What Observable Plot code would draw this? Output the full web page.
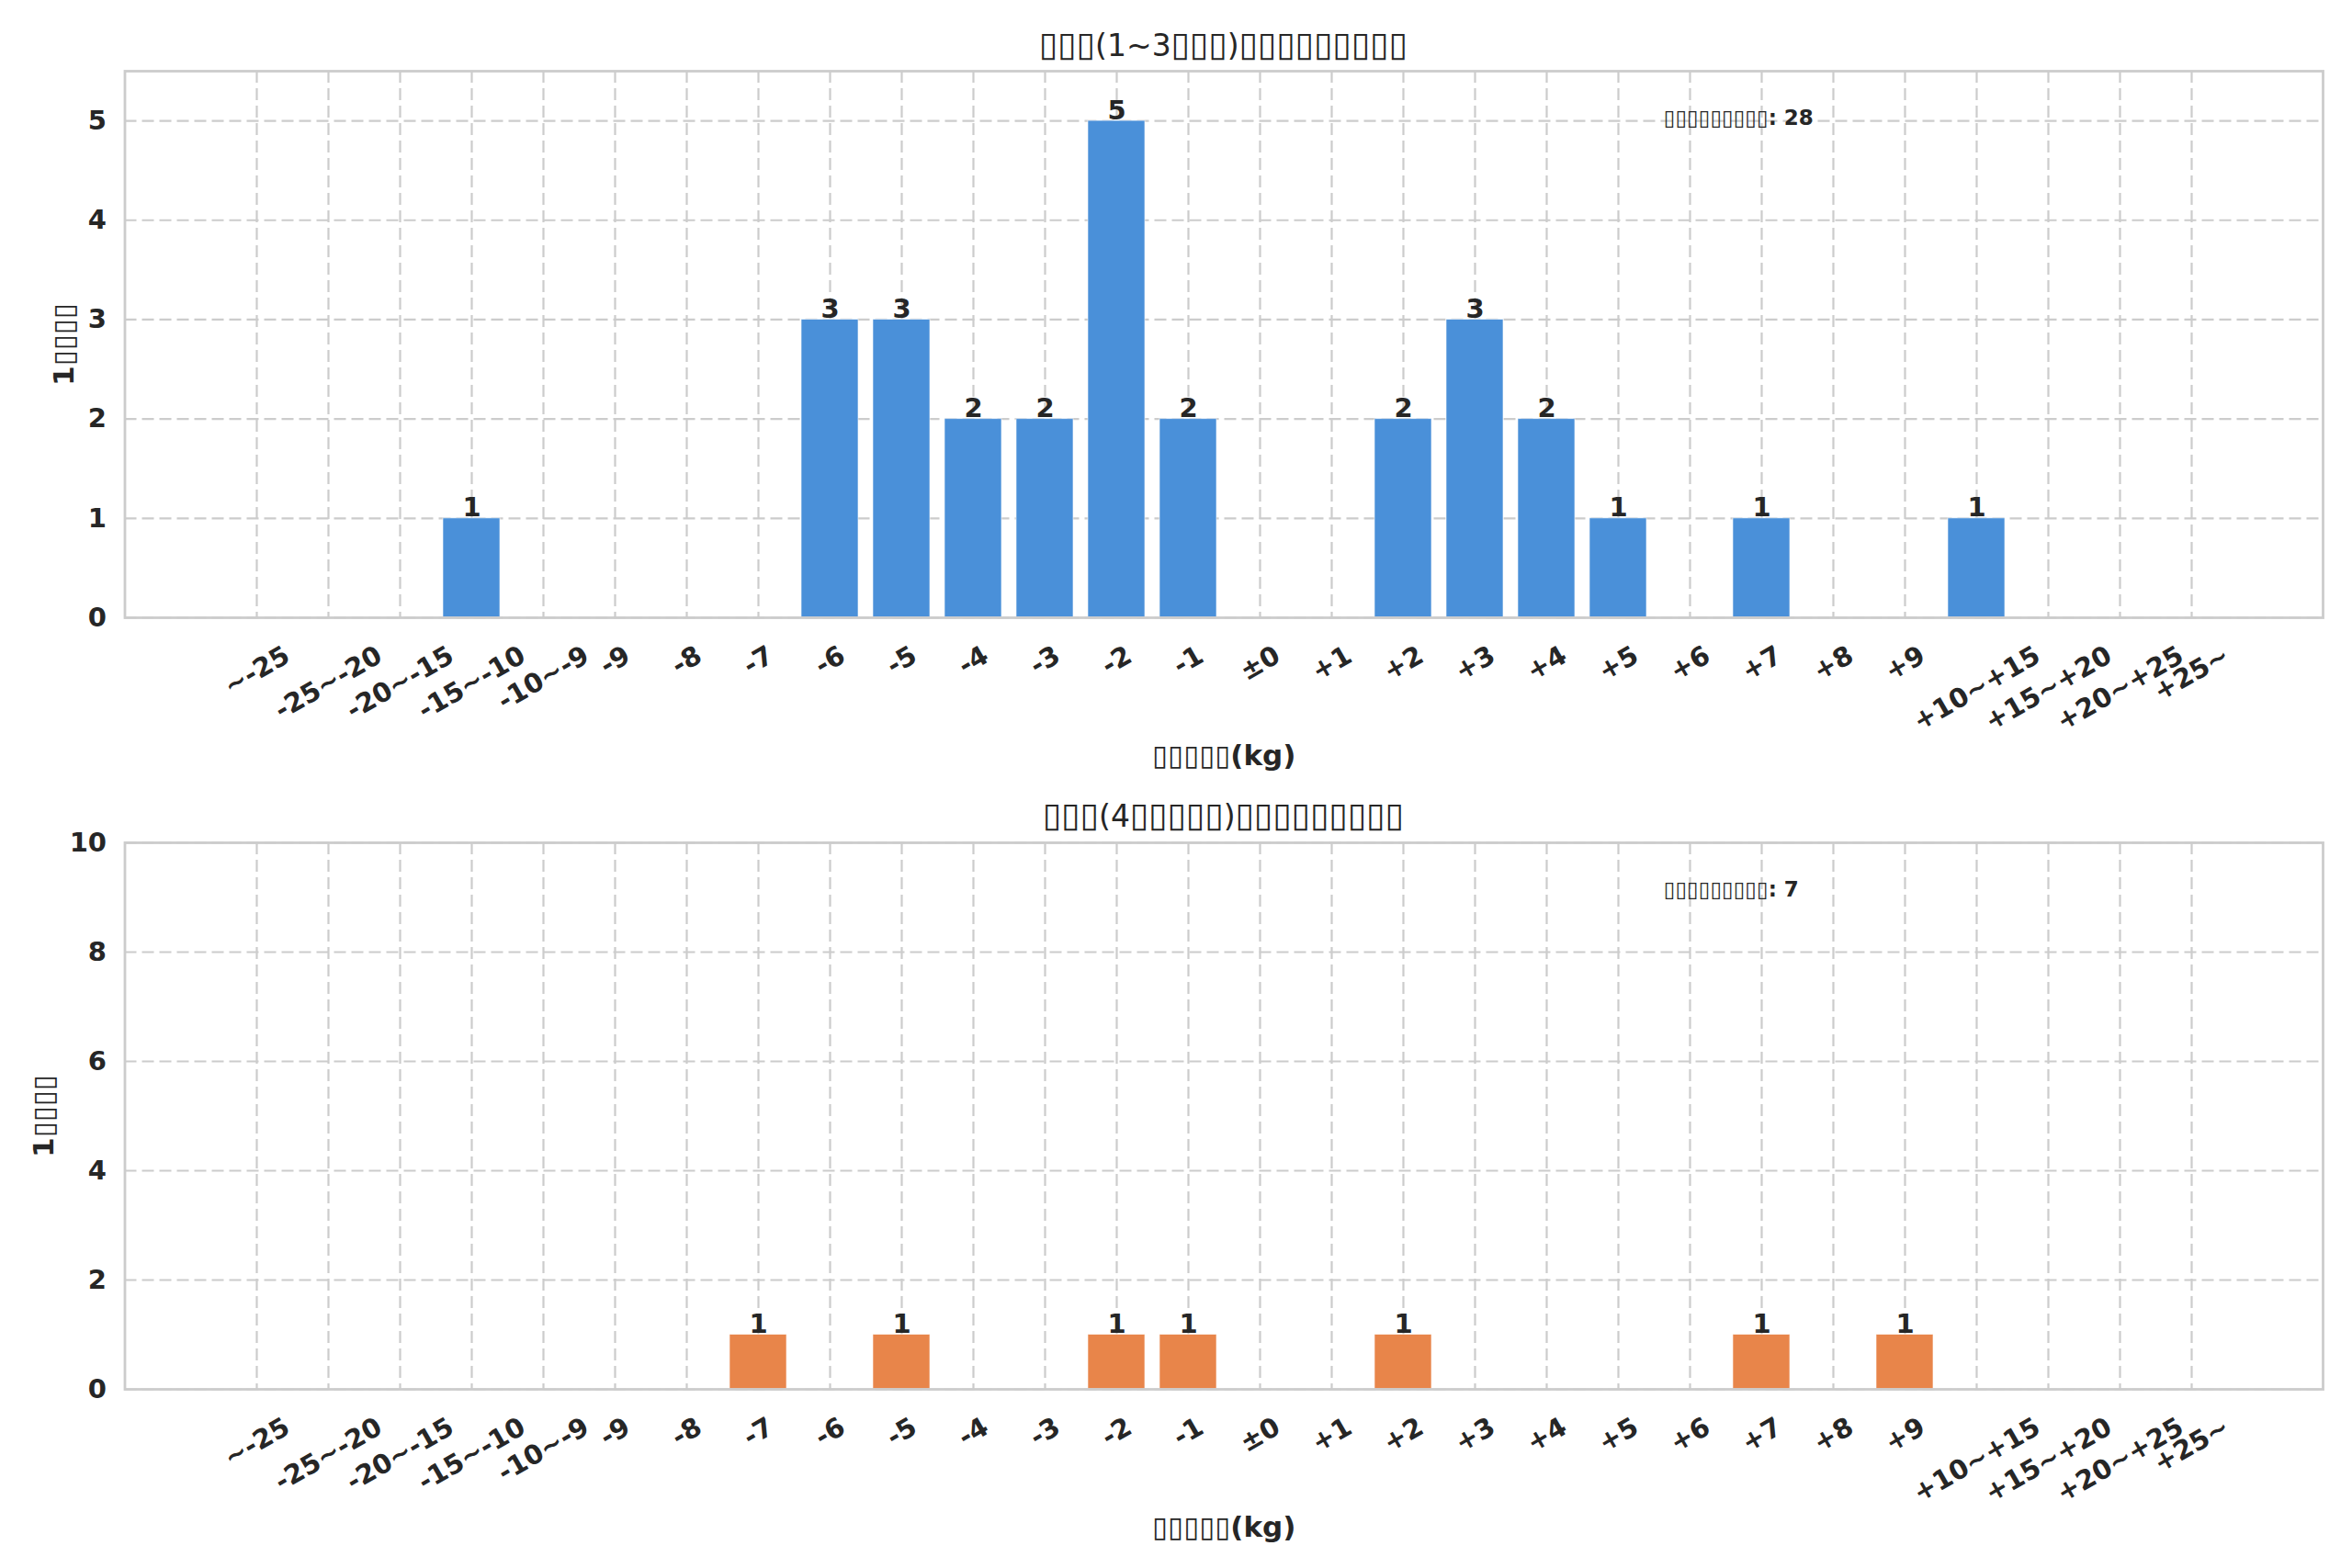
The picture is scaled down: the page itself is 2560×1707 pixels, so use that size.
<!DOCTYPE html>
<html>
<head>
<meta charset="utf-8">
<script src="https://cdn.jsdelivr.net/npm/d3@7"></script>
<script src="https://cdn.jsdelivr.net/npm/@observablehq/plot@0.6"></script>
<style>
  html, body { margin: 0; padding: 0; background: #fff; }
  body { width: 2560px; height: 1707px; position: relative; overflow: hidden; font-family: "DejaVu Sans", sans-serif; color: #262626; }
  .title { position: absolute; z-index: 2; left: 135px; width: 2393px; text-align: center; font-size: 33px; line-height: 40px; color: #262626; white-space: nowrap; }
  .title .tofu { font-size: 37px; line-height: 40px; }
  .chart { position: absolute; left: 0; z-index: 1; }
</style>
</head>
<body>
<div id="t1" class="title" style="top:29px"></div>
<div id="c1" class="chart" style="top:60px"></div>
<div id="t2" class="title" style="top:868px"></div>
<div id="c2" class="chart" style="top:900px"></div>
<script>
// ---- data ----
const categories = ["~-25","-25~-20","-20~-15","-15~-10","-10~-9","-9","-8","-7","-6","-5","-4","-3","-2","-1","±0","+1","+2","+3","+4","+5","+6","+7","+8","+9","+10~+15","+15~+20","+20~+25","+25~"];
const countsEarly = [0,0,0,1,0,0,0,0,3,3,2,2,5,2,0,0,2,3,2,1,0,1,0,0,1,0,0,0];
const countsLate  = [0,0,0,0,0,0,0,1,0,1,0,0,1,1,0,0,1,0,0,0,0,1,0,1,0,0,0,0];
const yTicksEarly = [0,1,2,3,4,5];
const yTicksLate = [0,2,4,6,8,10];
const titleEarly = "▯▯▯(1~3▯▯▯)▯▯▯▯▯▯▯▯▯";
const titleLate = "▯▯▯(4▯▯▯▯▯)▯▯▯▯▯▯▯▯▯";
const xLabel = "▯▯▯▯▯(kg)";
const yLabel = "1▯▯▯▯";
const totalLabel = "▯▯▯▯▯▯▯▯▯";
const colorEarly = "#4a90d9";
const colorLate = "#e8854a";

function setTitle(id, text) {
  const el = document.getElementById(id);
  for (const ch of text) {
    if (ch === "▯") {
      const s = document.createElement("span");
      s.className = "tofu";
      s.textContent = ch;
      el.appendChild(s);
    } else {
      el.appendChild(document.createTextNode(ch));
    }
  }
}
setTitle("t1", titleEarly);
setTitle("t2", titleLate);

const FONT = "DejaVu Sans";
const TICK_FS = 29;
const canvas = document.createElement("canvas");
const ctx = canvas.getContext("2d");
ctx.font = `bold ${TICK_FS}px "${FONT}"`;
const cos30 = Math.cos(Math.PI/6), sin30 = 0.5;
const lineH = TICK_FS * 1.17;

function chart({counts, yMax, yTicks, color, yLabelDx}) {
  const data = categories.map((c, i) => ({cat: c, n: counts[i]}));
  const total = d3.sum(counts);
  const W = 2560, H = 800, mT = 17, mB = 188, mL = 135.5, mR = 32;
  const fw = W - mL - mR, fh = H - mT - mB;
  const tickMarks = categories.map(c => {
    const w = ctx.measureText(c).width;
    const bh = sin30 * w + cos30 * lineH;
    return Plot.text([c], {
      x: d => d, frameAnchor: "bottom", rotate: -30,
      textAnchor: "middle", lineAnchor: "middle",
      dy: 24 + bh / 2, fontSize: TICK_FS, fontWeight: "bold", fill: "#262626"
    });
  });
  return Plot.plot({
    width: W, height: H,
    marginTop: mT, marginBottom: mB, marginLeft: mL, marginRight: mR,
    style: {fontFamily: FONT, color: "#262626", background: "transparent"},
    x: {type: "band", domain: categories, paddingInner: 0.2, paddingOuter: 1.39, align: 0.5, axis: null},
    y: {domain: [0, yMax], axis: null},
    marks: [
      Plot.gridX(categories, {stroke: "#cccccc", strokeOpacity: 1, strokeWidth: 2.2, strokeDasharray: "13,6"}),
      Plot.gridY(yTicks, {stroke: "#cccccc", strokeOpacity: 1, strokeWidth: 2.2, strokeDasharray: "13,6"}),
      Plot.barY(data, {x: "cat", y: "n", fill: color, stroke: "white", strokeWidth: 1, strokeOpacity: 0.6}),
      Plot.text(data.filter(d => d.n > 0), {x: "cat", y: "n", text: d => String(d.n), dy: -2, lineAnchor: "bottom", fontSize: TICK_FS, fontWeight: "bold", fill: "#262626"}),
      Plot.axisY(yTicks, {tickSize: 0, tickPadding: 20, tickFormat: d => String(d), fontSize: TICK_FS, fontWeight: "bold", fill: "#262626", label: null}),
      ...tickMarks,
      Plot.text([xLabel], {frameAnchor: "bottom", dy: 151, lineAnchor: "middle", fontSize: 31, fontWeight: "bold", fill: "#262626"}),
      Plot.text([yLabel], {frameAnchor: "left", dx: yLabelDx, rotate: -90, lineAnchor: "middle", textAnchor: "middle", fontSize: 31, fontWeight: "bold", fill: "#262626"}),
      Plot.text([`${totalLabel}: ${total}`], {frameAnchor: "top-left", dx: 0.7 * fw, dy: 0.05 * fh + 12, lineAnchor: "top", textAnchor: "start", fontSize: 23, fontWeight: "bold", fill: "#262626"}),
      Plot.frame({stroke: "#cccccc", strokeWidth: 2.8})
    ]
  });
}

document.getElementById("c1").appendChild(chart({counts: countsEarly, yMax: 5.5, yTicks: yTicksEarly, color: colorEarly, yLabelDx: -66}));
document.getElementById("c2").appendChild(chart({counts: countsLate, yMax: 10, yTicks: yTicksLate, color: colorLate, yLabelDx: -88}));
</script>
</body>
</html>
